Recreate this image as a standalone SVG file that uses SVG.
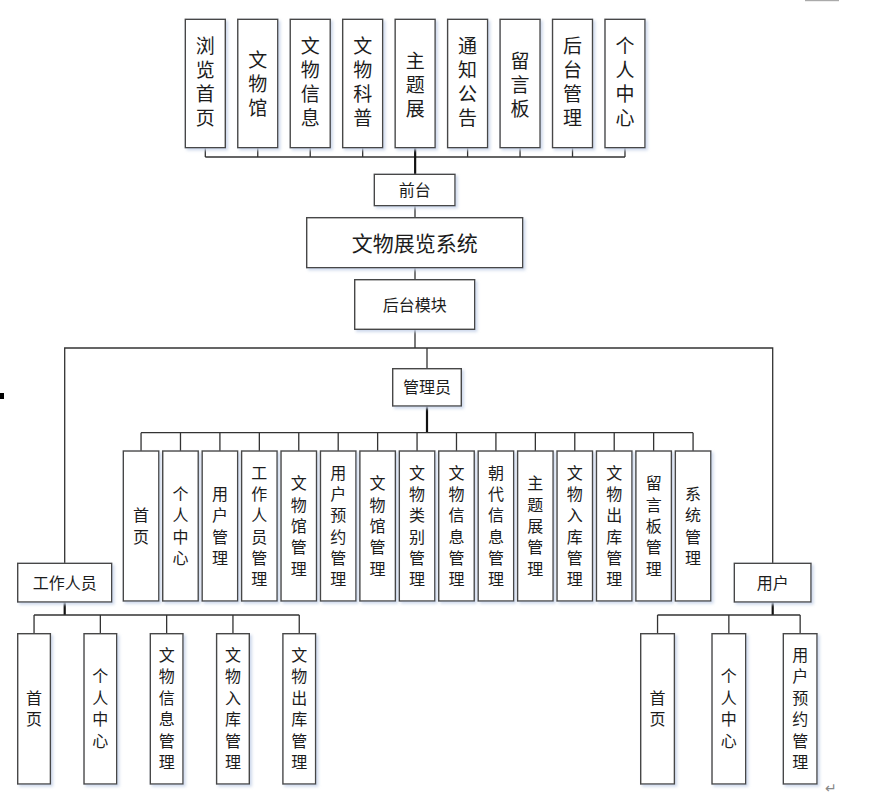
<svg xmlns="http://www.w3.org/2000/svg" width="870" height="804" viewBox="0 0 870 804">
<defs>
<filter id="sh" x="-20%" y="-20%" width="150%" height="150%">
<feDropShadow dx="2" dy="2" stdDeviation="1.5" flood-color="#c9d5ea" flood-opacity="0.9"/>
</filter>
</defs>
<style>
.box{fill:#fff;stroke:#474747;stroke-width:1.4;filter:url(#sh)}
.t{font-family:"Liberation Sans","Noto Sans CJK SC",sans-serif;fill:#1c1c1c;text-anchor:middle}
.f19{font-size:19px}
.f16{font-size:16px}
.f21{font-size:21px}
.ln{stroke:#333;stroke-width:1.3;fill:none}
.lk{stroke:#111;stroke-width:2.2;fill:none}
</style>
<rect x="0" y="393" width="4" height="6" fill="#000"/>
<rect x="805" y="0" width="34" height="1.2" fill="#aaa"/>
<text x="831" y="793" class="t" style="font-size:14px;fill:#888">↵</text>

<g id="connectors">
<path class="ln" d="M205.3 157H625M205.3 147.7V157M257.76 147.7V157M310.22 147.7V157M362.68 147.7V157M467.6 147.7V157M520.06 147.7V157M572.52 147.7V157M624.98 147.7V157"/>
<path class="lk" d="M415.14 147.7V174.3"/>
<path class="ln" d="M415 205.7V217.7M415 267.7V279.7M415 329.3V348"/>
<path class="ln" d="M64.7 563.3V348H772.7V563.3M427 348V368.7"/>
<path class="lk" d="M427 406V432.7"/>
<path class="ln" d="M141.05 432.7H693.07M141.05 432.7V451M180.48 432.7V451M219.91 432.7V451M259.34 432.7V451M298.77 432.7V451M338.2 432.7V451M377.63 432.7V451M417.06 432.7V451M456.49 432.7V451M495.92 432.7V451M535.35 432.7V451M574.78 432.7V451M614.21 432.7V451M653.64 432.7V451M693.07 432.7V451"/>
<path class="lk" d="M64.7 602V615M772.7 602V615"/>
<path class="ln" d="M34.05 615H299.25M34.05 615V633.7M100.35 615V633.7M166.65 615V633.7M232.95 615V633.7M299.25 615V633.7"/>
<path class="ln" d="M657.55 615H800.15M657.55 615V633.7M728.85 615V633.7M800.15 615V633.7"/>
</g>

<!-- top row -->
<g id="n_browse"><rect class="box" x="185.3" y="19.3" width="40" height="128.4"/>
<text class="t f19"><tspan x="205.3" y="52.5">浏</tspan><tspan x="205.3" y="76.5">览</tspan><tspan x="205.3" y="100.5">首</tspan><tspan x="205.3" y="124.5">页</tspan></text></g>
<g id="n_museum"><rect class="box" x="237.76" y="19.3" width="40" height="128.4"/>
<text class="t f19"><tspan x="257.76" y="66.5">文</tspan><tspan x="257.76" y="90.5">物</tspan><tspan x="257.76" y="114.5">馆</tspan></text></g>
<g id="n_relicinfo"><rect class="box" x="290.22" y="19.3" width="40" height="128.4"/>
<text class="t f19"><tspan x="310.22" y="52.5">文</tspan><tspan x="310.22" y="76.5">物</tspan><tspan x="310.22" y="100.5">信</tspan><tspan x="310.22" y="124.5">息</tspan></text></g>
<g id="n_science"><rect class="box" x="342.68" y="19.3" width="40" height="128.4"/>
<text class="t f19"><tspan x="362.68" y="52.5">文</tspan><tspan x="362.68" y="76.5">物</tspan><tspan x="362.68" y="100.5">科</tspan><tspan x="362.68" y="124.5">普</tspan></text></g>
<g id="n_theme"><rect class="box" x="395.14" y="19.3" width="40" height="128.4"/>
<text class="t f19"><tspan x="415.14" y="67.5">主</tspan><tspan x="415.14" y="91.5">题</tspan><tspan x="415.14" y="115.5">展</tspan></text></g>
<g id="n_notice"><rect class="box" x="447.6" y="19.3" width="40" height="128.4"/>
<text class="t f19"><tspan x="467.6" y="52.5">通</tspan><tspan x="467.6" y="76.5">知</tspan><tspan x="467.6" y="100.5">公</tspan><tspan x="467.6" y="124.5">告</tspan></text></g>
<g id="n_board"><rect class="box" x="500.06" y="19.3" width="40" height="128.4"/>
<text class="t f19"><tspan x="520.06" y="67.5">留</tspan><tspan x="520.06" y="91.5">言</tspan><tspan x="520.06" y="115.5">板</tspan></text></g>
<g id="n_backend"><rect class="box" x="552.52" y="19.3" width="40" height="128.4"/>
<text class="t f19"><tspan x="572.52" y="52.5">后</tspan><tspan x="572.52" y="76.5">台</tspan><tspan x="572.52" y="100.5">管</tspan><tspan x="572.52" y="124.5">理</tspan></text></g>
<g id="n_personal"><rect class="box" x="604.98" y="19.3" width="40" height="128.4"/>
<text class="t f19"><tspan x="624.98" y="52.5">个</tspan><tspan x="624.98" y="76.5">人</tspan><tspan x="624.98" y="100.5">中</tspan><tspan x="624.98" y="124.5">心</tspan></text></g>

<g id="n_front"><rect class="box" x="374.3" y="174.3" width="80.7" height="31.4"/>
<text class="t f16" x="414.65" y="196">前台</text></g>
<g id="n_system"><rect class="box" x="306.7" y="217.7" width="216" height="50"/>
<text class="t f21" x="414.7" y="250.5">文物展览系统</text></g>
<g id="n_backmod"><rect class="box" x="354.7" y="279.7" width="120" height="49.6"/>
<text class="t f16" x="414.7" y="310.5">后台模块</text></g>
<g id="n_admin"><rect class="box" x="392.7" y="368.7" width="68.6" height="37.3"/>
<text class="t f16" x="427" y="393.4">管理员</text></g>
<g id="n_staff"><rect class="box" x="17.7" y="563.3" width="94" height="38.7"/>
<text class="t f16" x="64.7" y="588.7">工作人员</text></g>
<g id="n_user"><rect class="box" x="734.3" y="563.3" width="76.7" height="38.7"/>
<text class="t f16" x="772.65" y="588.7">用户</text></g>

<!-- admin children -->
<g id="a1"><rect class="box" x="123.3" y="451" width="35.5" height="150"/>
<text class="t f16"><tspan x="141.05" y="521.4">首</tspan><tspan x="141.05" y="542.7">页</tspan></text></g>
<g id="a2"><rect class="box" x="162.73" y="451" width="35.5" height="150"/>
<text class="t f16"><tspan x="180.48" y="500">个</tspan><tspan x="180.48" y="521.4">人</tspan><tspan x="180.48" y="542.7">中</tspan><tspan x="180.48" y="564">心</tspan></text></g>
<g id="a3"><rect class="box" x="202.16" y="451" width="35.5" height="150"/>
<text class="t f16"><tspan x="219.91" y="500">用</tspan><tspan x="219.91" y="521.4">户</tspan><tspan x="219.91" y="542.7">管</tspan><tspan x="219.91" y="564">理</tspan></text></g>
<g id="a4"><rect class="box" x="241.59" y="451" width="35.5" height="150"/>
<text class="t f16"><tspan x="259.34" y="478.8">工</tspan><tspan x="259.34" y="500">作</tspan><tspan x="259.34" y="521.4">人</tspan><tspan x="259.34" y="542.7">员</tspan><tspan x="259.34" y="564">管</tspan><tspan x="259.34" y="585.3">理</tspan></text></g>
<g id="a5"><rect class="box" x="281.02" y="451" width="35.5" height="150"/>
<text class="t f16"><tspan x="298.77" y="489.4">文</tspan><tspan x="298.77" y="510.7">物</tspan><tspan x="298.77" y="532">馆</tspan><tspan x="298.77" y="553.3">管</tspan><tspan x="298.77" y="574.6">理</tspan></text></g>
<g id="a6"><rect class="box" x="320.45" y="451" width="35.5" height="150"/>
<text class="t f16"><tspan x="338.2" y="478.8">用</tspan><tspan x="338.2" y="500">户</tspan><tspan x="338.2" y="521.4">预</tspan><tspan x="338.2" y="542.7">约</tspan><tspan x="338.2" y="564">管</tspan><tspan x="338.2" y="585.3">理</tspan></text></g>
<g id="a7"><rect class="box" x="359.88" y="451" width="35.5" height="150"/>
<text class="t f16"><tspan x="377.63" y="489.4">文</tspan><tspan x="377.63" y="510.7">物</tspan><tspan x="377.63" y="532">馆</tspan><tspan x="377.63" y="553.3">管</tspan><tspan x="377.63" y="574.6">理</tspan></text></g>
<g id="a8"><rect class="box" x="399.31" y="451" width="35.5" height="150"/>
<text class="t f16"><tspan x="417.06" y="478.8">文</tspan><tspan x="417.06" y="500">物</tspan><tspan x="417.06" y="521.4">类</tspan><tspan x="417.06" y="542.7">别</tspan><tspan x="417.06" y="564">管</tspan><tspan x="417.06" y="585.3">理</tspan></text></g>
<g id="a9"><rect class="box" x="438.74" y="451" width="35.5" height="150"/>
<text class="t f16"><tspan x="456.49" y="478.8">文</tspan><tspan x="456.49" y="500">物</tspan><tspan x="456.49" y="521.4">信</tspan><tspan x="456.49" y="542.7">息</tspan><tspan x="456.49" y="564">管</tspan><tspan x="456.49" y="585.3">理</tspan></text></g>
<g id="a10"><rect class="box" x="478.17" y="451" width="35.5" height="150"/>
<text class="t f16"><tspan x="495.92" y="478.8">朝</tspan><tspan x="495.92" y="500">代</tspan><tspan x="495.92" y="521.4">信</tspan><tspan x="495.92" y="542.7">息</tspan><tspan x="495.92" y="564">管</tspan><tspan x="495.92" y="585.3">理</tspan></text></g>
<g id="a11"><rect class="box" x="517.6" y="451" width="35.5" height="150"/>
<text class="t f16"><tspan x="535.35" y="489.4">主</tspan><tspan x="535.35" y="510.7">题</tspan><tspan x="535.35" y="532">展</tspan><tspan x="535.35" y="553.3">管</tspan><tspan x="535.35" y="574.6">理</tspan></text></g>
<g id="a12"><rect class="box" x="557.03" y="451" width="35.5" height="150"/>
<text class="t f16"><tspan x="574.78" y="478.8">文</tspan><tspan x="574.78" y="500">物</tspan><tspan x="574.78" y="521.4">入</tspan><tspan x="574.78" y="542.7">库</tspan><tspan x="574.78" y="564">管</tspan><tspan x="574.78" y="585.3">理</tspan></text></g>
<g id="a13"><rect class="box" x="596.46" y="451" width="35.5" height="150"/>
<text class="t f16"><tspan x="614.21" y="478.8">文</tspan><tspan x="614.21" y="500">物</tspan><tspan x="614.21" y="521.4">出</tspan><tspan x="614.21" y="542.7">库</tspan><tspan x="614.21" y="564">管</tspan><tspan x="614.21" y="585.3">理</tspan></text></g>
<g id="a14"><rect class="box" x="635.89" y="451" width="35.5" height="150"/>
<text class="t f16"><tspan x="653.64" y="489.4">留</tspan><tspan x="653.64" y="510.7">言</tspan><tspan x="653.64" y="532">板</tspan><tspan x="653.64" y="553.3">管</tspan><tspan x="653.64" y="574.6">理</tspan></text></g>
<g id="a15"><rect class="box" x="675.32" y="451" width="35.5" height="150"/>
<text class="t f16"><tspan x="693.07" y="500">系</tspan><tspan x="693.07" y="521.4">统</tspan><tspan x="693.07" y="542.7">管</tspan><tspan x="693.07" y="564">理</tspan></text></g>

<!-- staff children -->
<g id="s1"><rect class="box" x="17.7" y="633.7" width="32.7" height="150.3"/>
<text class="t f16"><tspan x="34.05" y="703.75">首</tspan><tspan x="34.05" y="725.25">页</tspan></text></g>
<g id="s2"><rect class="box" x="84" y="633.7" width="32.7" height="150.3"/>
<text class="t f16"><tspan x="100.35" y="682.25">个</tspan><tspan x="100.35" y="703.75">人</tspan><tspan x="100.35" y="725.25">中</tspan><tspan x="100.35" y="746.75">心</tspan></text></g>
<g id="s3"><rect class="box" x="150.3" y="633.7" width="32.7" height="150.3"/>
<text class="t f16"><tspan x="166.65" y="660.75">文</tspan><tspan x="166.65" y="682.25">物</tspan><tspan x="166.65" y="703.75">信</tspan><tspan x="166.65" y="725.25">息</tspan><tspan x="166.65" y="746.75">管</tspan><tspan x="166.65" y="768.25">理</tspan></text></g>
<g id="s4"><rect class="box" x="216.6" y="633.7" width="32.7" height="150.3"/>
<text class="t f16"><tspan x="232.95" y="660.75">文</tspan><tspan x="232.95" y="682.25">物</tspan><tspan x="232.95" y="703.75">入</tspan><tspan x="232.95" y="725.25">库</tspan><tspan x="232.95" y="746.75">管</tspan><tspan x="232.95" y="768.25">理</tspan></text></g>
<g id="s5"><rect class="box" x="282.9" y="633.7" width="32.7" height="150.3"/>
<text class="t f16"><tspan x="299.25" y="660.75">文</tspan><tspan x="299.25" y="682.25">物</tspan><tspan x="299.25" y="703.75">出</tspan><tspan x="299.25" y="725.25">库</tspan><tspan x="299.25" y="746.75">管</tspan><tspan x="299.25" y="768.25">理</tspan></text></g>

<!-- user children -->
<g id="u1"><rect class="box" x="640.7" y="633.7" width="33.7" height="150.3"/>
<text class="t f16"><tspan x="657.55" y="703.75">首</tspan><tspan x="657.55" y="725.25">页</tspan></text></g>
<g id="u2"><rect class="box" x="712" y="633.7" width="33.7" height="150.3"/>
<text class="t f16"><tspan x="728.85" y="682.25">个</tspan><tspan x="728.85" y="703.75">人</tspan><tspan x="728.85" y="725.25">中</tspan><tspan x="728.85" y="746.75">心</tspan></text></g>
<g id="u3"><rect class="box" x="783.3" y="633.7" width="33.7" height="150.3"/>
<text class="t f16"><tspan x="800.15" y="660.75">用</tspan><tspan x="800.15" y="682.25">户</tspan><tspan x="800.15" y="703.75">预</tspan><tspan x="800.15" y="725.25">约</tspan><tspan x="800.15" y="746.75">管</tspan><tspan x="800.15" y="768.25">理</tspan></text></g>
</svg>
